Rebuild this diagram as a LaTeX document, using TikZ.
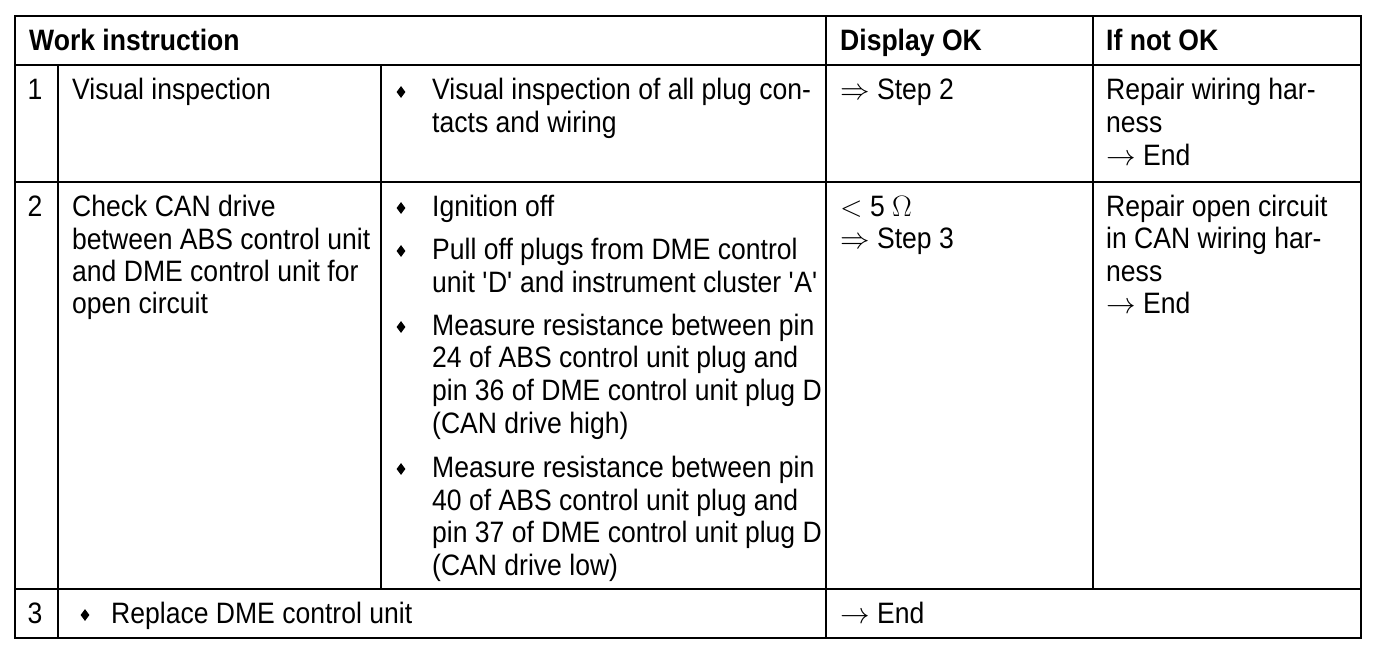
\RequirePackage{fix-cm}
\documentclass[tikz,border=0pt]{standalone}
\usepackage{fontspec}
\setmainfont{Liberation Sans}[FakeStretch=0.9]
\usetikzlibrary{shapes.geometric}
\tikzset{
  txt/.style={anchor=base west, inner sep=0pt, font=\fontsize{29.5}{33}\selectfont},
  hdr/.style={txt, font=\fontsize{29.5}{33}\selectfont\bfseries},
  num/.style={anchor=base, inner sep=0pt, font=\fontsize{29.5}{33}\selectfont},
  bul/.style={diamond, fill=black, draw=none, inner sep=0pt, minimum width=9pt, minimum height=12pt},
  rule/.style={line width=2pt, black}
}
\begin{document}
\begin{tikzpicture}[x=1pt, y=-1pt]
\useasboundingbox (0,0) rectangle (1392,658);
% grid
\draw[rule] (15,16) rectangle (1361,638);
\draw[rule] (15,65) -- (1361,65);
\draw[rule] (15,182) -- (1361,182);
\draw[rule] (15,589) -- (1361,589);
\draw[rule] (58,65) -- (58,638);
\draw[rule] (381,65) -- (381,589);
\draw[rule] (826,16) -- (826,638);
\draw[rule] (1093,16) -- (1093,589);
% header
\node[hdr] (h1) at (29,51) {Work instruction};
\node[hdr] (h2) at (840,51) {Display OK};
\node[hdr] (h3) at (1106,51) {If not OK};
% row 1
\node[num] (n1) at (35,100) {1};
\node[txt] (r1a) at (72,100) {Visual inspection};
\node[bul] (b1) at (401,92) {};
\node[txt] (r1b1) at (432,100) {Visual inspection of all plug con-};
\node[txt] (r1b2) at (432,133) {tacts and wiring};
\node[txt] (r1c) at (840,100) {$\Rightarrow$ Step 2};
\node[txt] (r1d1) at (1106,100) {Repair wiring har-};
\node[txt] (r1d2) at (1106,133) {ness};
\node[txt] (r1d3) at (1106,165) {$\rightarrow$ End};
% row 2
\node[num] (n2) at (35,216) {2};
\node[txt] (r2a1) at (72,216) {Check CAN drive};
\node[txt] (r2a2) at (72,249) {between ABS control unit};
\node[txt] (r2a3) at (72,281) {and DME control unit for};
\node[txt] (r2a4) at (72,313) {open circuit};
\node[bul] (b2) at (401,208) {};
\node[txt] (r2b1) at (432,216) {Ignition off};
\node[bul] (b3) at (401,251) {};
\node[txt] (r2b2) at (432,259) {Pull off plugs from DME control};
\node[txt] (r2b3) at (432,292) {unit \textquotesingle D\textquotesingle{} and instrument cluster \textquotesingle A\textquotesingle};
\node[bul] (b4) at (401,327) {};
\node[txt] (r2b4) at (432,335) {Measure resistance between pin};
\node[txt] (r2b5) at (432,367) {24 of ABS control unit plug and};
\node[txt] (r2b6) at (432,400) {pin 36 of DME control unit plug D};
\node[txt] (r2b7) at (432,433) {(CAN drive high)};
\node[bul] (b5) at (401,469) {};
\node[txt] (r2b8) at (432,477) {Measure resistance between pin};
\node[txt] (r2b9) at (432,510) {40 of ABS control unit plug and};
\node[txt] (r2b10) at (432,542) {pin 37 of DME control unit plug D};
\node[txt] (r2b11) at (432,575) {(CAN drive low)};
\node[txt] (r2c1) at (840,216) {$<$ 5 $\Omega$};
\node[txt] (r2c2) at (840,248) {$\Rightarrow$ Step 3};
\node[txt] (r2d1) at (1106,216) {Repair open circuit};
\node[txt] (r2d2) at (1106,248) {in CAN wiring har-};
\node[txt] (r2d3) at (1106,281) {ness};
\node[txt] (r2d4) at (1106,313) {$\rightarrow$ End};
% row 3
\node[num] (n3) at (35,623) {3};
\node[bul] (b6) at (85,615) {};
\node[txt] (r3a) at (111,623) {Replace DME control unit};
\node[txt] (r3c) at (840,623) {$\rightarrow$ End};
\end{tikzpicture}
\end{document}
